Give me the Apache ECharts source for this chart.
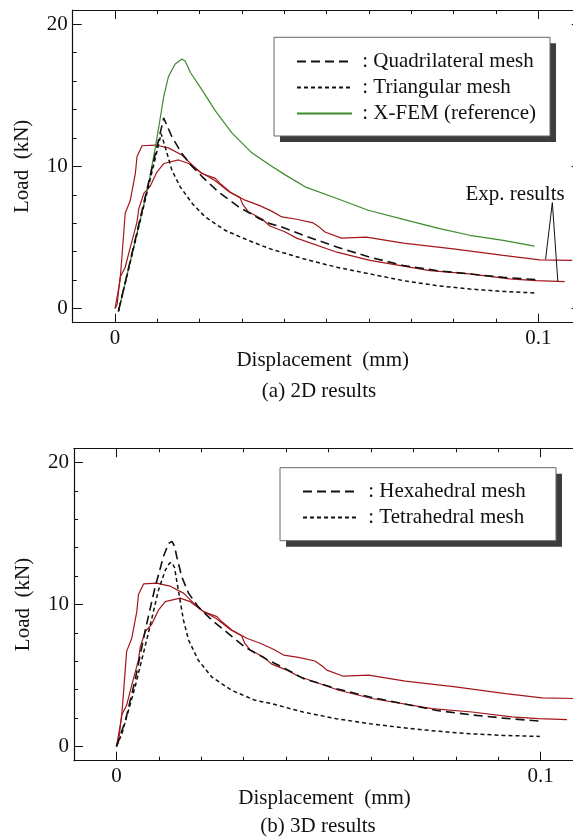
<!DOCTYPE html>
<html>
<head>
<meta charset="utf-8">
<script src="https://cdn.jsdelivr.net/npm/echarts@6/dist/echarts.min.js"></script>
<style>
  html, body { margin: 0; padding: 0; background: #fff; overflow: hidden; }
  #frame { width: 573px; height: 837px; overflow: hidden; position: relative; }
  #chart { width: 590px; height: 837px; position: absolute; left: 0; top: 0; }
</style>
</head>
<body>
<div id="frame"><div id="chart"></div></div>
<script>
// ---- Data: [displacement (mm), load (kN)] ----
const quadMesh2D = [[0.0008,-0.2],[0.0115,13.4],[0.0134,12.1],[0.0158,10.9],[0.0182,10.0],[0.0205,9.3],[0.0244,8.2],[0.0292,7.15],[0.0339,6.35],[0.0366,5.97],[0.0394,5.73],[0.0445,5.15],[0.0524,4.32],[0.0602,3.61],[0.0681,3.02],[0.0759,2.67],[0.0838,2.43],[0.0917,2.19],[0.0995,2.03]];
const triMesh2D = [[0.0008,-0.2],[0.0109,12.3],[0.0123,10.9],[0.0134,9.75],[0.0154,8.56],[0.0182,7.4],[0.0213,6.44],[0.026,5.5],[0.0315,4.79],[0.0366,4.2],[0.0445,3.5],[0.0524,2.9],[0.0602,2.43],[0.0681,1.96],[0.0759,1.61],[0.0838,1.37],[0.0917,1.2],[0.0995,1.09]];
const xfem2D = [[0.0008,-0.2],[0.0079,8.7],[0.0095,11.3],[0.0103,12.7],[0.0115,14.9],[0.0126,16.3],[0.0142,17.2],[0.0158,17.55],[0.0166,17.4],[0.0178,16.6],[0.0205,15.4],[0.0237,13.9],[0.0276,12.35],[0.0323,10.95],[0.037,10.0],[0.0402,9.4],[0.0449,8.56],[0.0524,7.74],[0.0598,6.91],[0.0704,6.09],[0.0767,5.62],[0.0838,5.15],[0.0917,4.79],[0.0991,4.39]];
const hexMesh3D = [[0,0],[0.0021,1.8],[0.0044,4.66],[0.0068,8.2],[0.0091,11.2],[0.0111,13.4],[0.0123,14.3],[0.0131,14.45],[0.0137,14.1],[0.0142,13.4],[0.0154,11.95],[0.017,10.8],[0.0193,9.83],[0.0225,8.9],[0.0264,7.95],[0.0303,7.0],[0.0358,6.07],[0.0397,5.5],[0.0441,4.78],[0.0519,4.07],[0.0598,3.48],[0.0676,3.01],[0.0755,2.54],[0.0833,2.24],[0.0912,2.0],[0.0998,1.79]];
const tetMesh3D = [[0,0],[0.0013,0.9],[0.0044,4.2],[0.0075,7.95],[0.0099,11.0],[0.0115,12.4],[0.0125,12.9],[0.0131,12.95],[0.0137,12.6],[0.0142,11.7],[0.015,10.3],[0.0158,8.9],[0.017,7.5],[0.0193,6.07],[0.0225,4.89],[0.0272,3.95],[0.0327,3.25],[0.0362,3.05],[0.0397,2.77],[0.0441,2.42],[0.0519,1.95],[0.0598,1.6],[0.0676,1.32],[0.0755,1.08],[0.0833,0.9],[0.0912,0.78],[0.0998,0.71]];
const expTest1 = [[0,0],[0.0012,2.0],[0.0017,3.9],[0.0024,6.7],[0.0036,7.6],[0.0048,9.5],[0.0052,10.7],[0.0064,11.45],[0.0095,11.5],[0.0126,11.3],[0.0158,10.8],[0.0182,10.1],[0.0205,9.5],[0.0237,9.15],[0.0248,8.8],[0.0272,8.2],[0.0307,7.62],[0.0339,7.27],[0.037,6.85],[0.0394,6.44],[0.0429,6.28],[0.0468,6.02],[0.0484,5.69],[0.0496,5.38],[0.0535,4.95],[0.0594,5.02],[0.0681,4.6],[0.0799,4.2],[0.0917,3.73],[0.1003,3.42],[0.108,3.38]];
const expTest2 = [[0,0],[0.0005,0.3],[0.0012,2.2],[0.0024,2.9],[0.0036,4.3],[0.0052,6.1],[0.0056,7.0],[0.0068,8.1],[0.0083,8.6],[0.0099,9.6],[0.0115,10.2],[0.015,10.45],[0.0174,10.2],[0.0201,9.6],[0.0236,9.0],[0.027,8.2],[0.0295,7.8],[0.0302,7.3],[0.0315,6.8],[0.0347,6.3],[0.0366,5.8],[0.0402,5.38],[0.0429,4.95],[0.0524,3.96],[0.0602,3.38],[0.0744,2.67],[0.0838,2.43],[0.0932,2.08],[0.0995,1.96],[0.1062,1.89]];

// Axis ranges and tick values
const xRange = [-0.01, 0.11];
const yRange = [-1, 21];
const xMajorTicks = [0, 0.1];
const xMinorTicks = [0.01, 0.02, 0.03, 0.04, 0.05, 0.06, 0.07, 0.08, 0.09];
const yMajorTicks = [0, 10, 20];
const yMinorTicks = [2, 4, 6, 8, 12, 14, 16, 18];

// "Exp. results" callout: label anchor and leader-line end points (data space)
const expLabelAt = [0.0945, 8.0];
const expLeaderFrom = [0.1033, 7.45];
const expLeaderTo = [[0.1017, 3.45], [0.1046, 1.9]];

const FONT = "'Liberation Serif', 'DejaVu Serif', serif";
const INK = '#111';
const RED = '#a3161c';
const GREEN = '#3b8a2c';

const chart = echarts.init(document.getElementById('chart'), null, { renderer: 'canvas' });

function xAxesFor(gi) {
  const base = { type: 'value', gridIndex: gi, min: xRange[0], max: xRange[1], splitLine: { show: false } };
  const line = { show: true, onZero: false, lineStyle: { color: INK, width: 1.2 } };
  const noLine = { show: false, onZero: false };
  return [
    Object.assign({}, base, {
      position: 'bottom', axisLine: line,
      axisTick: { show: true, inside: true, length: 9, customValues: xMajorTicks, lineStyle: { color: INK } },
      axisLabel: { show: true, customValues: xMajorTicks, margin: 5, fontFamily: FONT, fontSize: 21, color: INK,
        formatter: v => (v === 0 ? '0' : String(v)) },
      name: 'Displacement  (mm)', nameLocation: 'middle', nameGap: 20,
      nameTextStyle: { fontFamily: FONT, fontSize: 21, color: INK, padding: [0, 8, 0, 0] }
    }),
    Object.assign({}, base, {
      position: 'bottom', axisLine: noLine,
      axisTick: { show: true, inside: true, length: 4, customValues: xMinorTicks, lineStyle: { color: INK } },
      axisLabel: { show: false }
    }),
    Object.assign({}, base, {
      position: 'top', axisLine: line,
      axisTick: { show: true, inside: true, length: 9, customValues: xMajorTicks, lineStyle: { color: INK } },
      axisLabel: { show: false }
    }),
    Object.assign({}, base, {
      position: 'top', axisLine: noLine,
      axisTick: { show: true, inside: true, length: 4, customValues: xMinorTicks, lineStyle: { color: INK } },
      axisLabel: { show: false }
    })
  ];
}

function yAxesFor(gi) {
  const base = { type: 'value', gridIndex: gi, min: yRange[0], max: yRange[1], splitLine: { show: false } };
  const line = { show: true, onZero: false, lineStyle: { color: INK, width: 1.2 } };
  const noLine = { show: false, onZero: false };
  return [
    Object.assign({}, base, {
      position: 'left', axisLine: line,
      axisTick: { show: true, inside: true, length: 9, customValues: yMajorTicks, lineStyle: { color: INK } },
      axisLabel: { show: true, customValues: yMajorTicks, margin: 5, fontFamily: FONT, fontSize: 21, color: INK },
      name: 'Load  (kN)', nameLocation: 'middle', nameGap: 40, nameRotate: 90,
      nameTextStyle: { fontFamily: FONT, fontSize: 21, color: INK }
    }),
    Object.assign({}, base, {
      position: 'left', axisLine: noLine,
      axisTick: { show: true, inside: true, length: 4, customValues: yMinorTicks, lineStyle: { color: INK } },
      axisLabel: { show: false }
    }),
    Object.assign({}, base, {
      position: 'right', axisLine: line,
      axisTick: { show: true, inside: true, length: 9, customValues: yMajorTicks, lineStyle: { color: INK } },
      axisLabel: { show: false }
    }),
    Object.assign({}, base, {
      position: 'right', axisLine: noLine,
      axisTick: { show: true, inside: true, length: 4, customValues: yMinorTicks, lineStyle: { color: INK } },
      axisLabel: { show: false }
    })
  ];
}

function curve(name, data, gi, color, width, dash) {
  return {
    name: name, type: 'line', data: data,
    xAxisIndex: gi * 4, yAxisIndex: gi * 4,
    symbol: 'none', showSymbol: false, smooth: false, silent: true,
    lineStyle: { color: color, width: width, type: dash || 'solid' },
    itemStyle: { color: color },
    z: 3
  };
}

function legendBox(names, left, top, padding) {
  return {
    data: names, orient: 'vertical', left: left, top: top, padding: padding, z: 12,
    itemWidth: 55, itemHeight: 21, itemGap: 5, selectedMode: false,
    formatter: n => ' : ' + n,
    itemStyle: { opacity: 0, borderWidth: 0 },
    textStyle: { fontFamily: FONT, fontSize: 21, color: INK, lineHeight: 21 },
    backgroundColor: 'transparent', borderWidth: 0
  };
}

// framed legend panel with a hard drop shadow
function panel(x, y, w, h) {
  return [
    { type: 'rect', z: 10, silent: true, shape: { x: x + 6, y: y + 6, width: w, height: h },
      style: { fill: '#3d3d3d' } },
    { type: 'rect', z: 11, silent: true, shape: { x: x, y: y, width: w, height: h },
      style: { fill: '#fff', stroke: '#666', lineWidth: 1 } }
  ];
}

const exp1Top = curve('Exp. 1', expTest1, 0, RED, 1.2);
exp1Top.markLine = {
  silent: true, symbol: ['none', 'none'], label: { show: false },
  lineStyle: { color: INK, width: 1, type: 'solid' },
  data: expLeaderTo.map(p => [{ coord: expLeaderFrom }, { coord: p }])
};
exp1Top.markPoint = {
  silent: true, symbol: 'rect', symbolSize: 1, itemStyle: { color: 'rgba(0,0,0,0)' },
  label: { show: true, position: 'inside', formatter: 'Exp. results', fontFamily: FONT, fontSize: 21, color: INK },
  data: [{ coord: expLabelAt }]
};

const option = {
  backgroundColor: '#fff',
  animation: false,
  grid: [
    { left: 72.7, top: 10, right: 9.3, bottom: 514.3, containLabel: false },
    { left: 74, top: 448.3, right: 6.9, bottom: 76.3, containLabel: false }
  ],
  xAxis: xAxesFor(0).concat(xAxesFor(1)),
  yAxis: yAxesFor(0).concat(yAxesFor(1)),
  legend: [
    legendBox(['Quadrilateral mesh', 'Triangular mesh', 'X-FEM (reference)'], 274, 37, [14, 22, 12, 22]),
    legendBox(['Hexahedral mesh', 'Tetrahedral mesh'], 280, 468, [13, 36, 12, 22])
  ],
  series: [
    exp1Top,
    curve('Exp. 2', expTest2, 0, RED, 1.2),
    curve('X-FEM (reference)', xfem2D, 0, GREEN, 1.2),
    curve('Quadrilateral mesh', quadMesh2D, 0, '#111', 1.6, [9, 5]),
    curve('Triangular mesh', triMesh2D, 0, '#111', 1.5, [4, 3]),
    curve('Exp. 1 (3D)', expTest1, 1, RED, 1.2),
    curve('Exp. 2 (3D)', expTest2, 1, RED, 1.2),
    curve('Hexahedral mesh', hexMesh3D, 1, '#111', 1.6, [9, 5]),
    curve('Tetrahedral mesh', tetMesh3D, 1, '#111', 1.5, [4, 3])
  ],
  graphic: panel(274, 37.3, 276, 98.7).concat(panel(280, 467.7, 276, 73)).concat([
    { type: 'text', x: 319, y: 391, silent: true,
      style: { text: '(a) 2D results', font: '21px ' + FONT, fill: INK, align: 'center', verticalAlign: 'middle' } },
    { type: 'text', x: 318, y: 826, silent: true,
      style: { text: '(b) 3D results', font: '21px ' + FONT, fill: INK, align: 'center', verticalAlign: 'middle' } }
  ])
};

chart.setOption(option);
</script>
</body>
</html>
